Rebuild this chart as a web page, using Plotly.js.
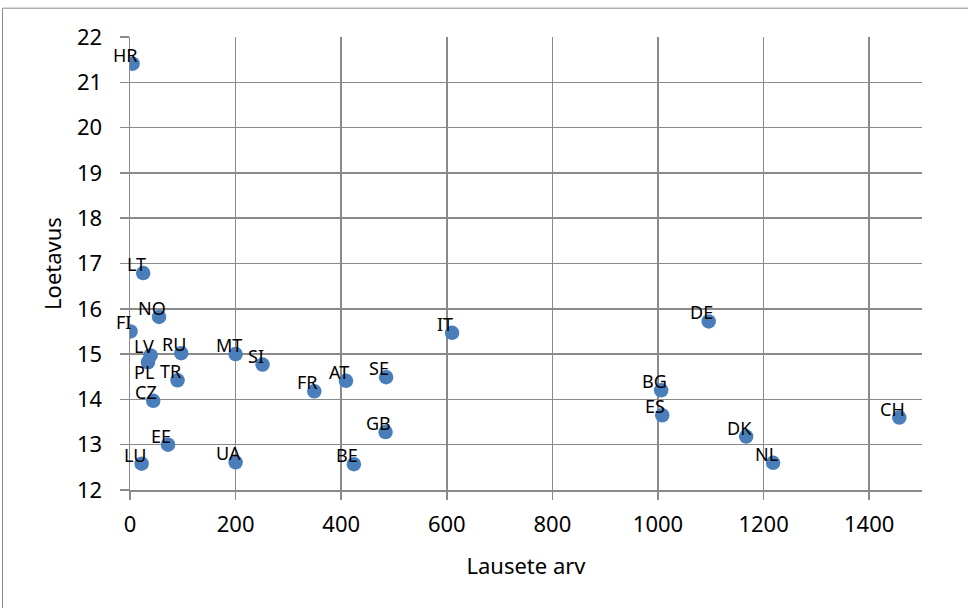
<!DOCTYPE html>
<html>
<head>
<meta charset="utf-8">
<script src="https://cdn.plot.ly/plotly-3.0.1.min.js"></script>
<style>
html,body{margin:0;padding:0;background:#fff;}
#chart{width:968px;height:608px;}
</style>
</head>
<body>
<div id="chart"></div>
<script>
const countries = ["HR","LT","NO","FI","LV","PL","RU","TR","CZ","EE","LU","UA","MT","SI","FR","AT","SE","GB","BE","IT","DE","BG","ES","DK","NL","CH"];
const sentenceCount = [5, 25, 55, 1, 39, 34, 97, 90, 44, 72, 22, 200, 200, 251, 349, 409, 485, 484, 424, 610, 1096, 1006, 1008, 1167, 1218, 1457];
const readability = [21.41, 16.79, 15.82, 15.50, 14.97, 14.82, 15.02, 14.42, 13.97, 13.00, 12.58, 12.61, 15.00, 14.77, 14.18, 14.41, 14.49, 13.28, 12.57, 15.47, 15.72, 14.20, 13.65, 13.18, 12.60, 13.60];
const xTicks = [0, 200, 400, 600, 800, 1000, 1200, 1400];
const yTicks = [12, 13, 14, 15, 16, 17, 18, 19, 20, 21, 22];

const FONT = "'Noto Sans', 'Open Sans', sans-serif";
const GRID = "#8a8a8a";

// label placement (style): default above-left, some labels placed below-left
const labelPlacement = {PL: {xshift: -4, yshift: -10}};

const trace = {
  type: "scatter",
  mode: "markers",
  x: sentenceCount,
  y: readability,
  marker: {size: 14.5, color: "#4a7ebb", line: {width: 0}},
  hoverinfo: "x+y+text",
  text: countries,
  showlegend: false
};

const annotations = countries.map((c, i) => {
  const p = labelPlacement[c] || {xshift: -7, yshift: 9};
  return {
    x: sentenceCount[i], y: readability[i], text: c,
    xref: "x", yref: "y", showarrow: false,
    xanchor: "center", yanchor: "middle",
    xshift: p.xshift, yshift: p.yshift,
    font: {family: FONT, size: 18, color: "#000"}
  };
});

const layout = {
  width: 968, height: 608,
  margin: {l: 130, r: 46, t: 37, b: 117.5},
  paper_bgcolor: "#fff", plot_bgcolor: "#fff",
  font: {family: FONT, size: 22, color: "#000"},
  xaxis: {
    range: [0, 1500], tickvals: xTicks, ticktext: xTicks.map(String),
    showgrid: true, gridcolor: GRID, gridwidth: 1.5,
    zeroline: false, showline: true, linecolor: GRID, linewidth: 1.5,
    ticks: "outside", ticklen: 8, tickcolor: GRID, tickwidth: 1.5, ticklabelstandoff: 6,
    tickfont: {family: FONT, size: 22, color: "#000"},
    title: {text: "Lausete arv", font: {family: FONT, size: 22, color: "#000"}, standoff: 21},
    fixedrange: true
  },
  yaxis: {
    range: [12, 22], tickvals: yTicks, ticktext: yTicks.map(String),
    showgrid: true, gridcolor: GRID, gridwidth: 1.5,
    zeroline: false, showline: true, linecolor: GRID, linewidth: 1.5,
    ticks: "outside", ticklen: 9, tickcolor: GRID, tickwidth: 1.5, ticklabelstandoff: 13,
    tickfont: {family: FONT, size: 22, color: "#000"},
    title: {text: "Loetavus", font: {family: FONT, size: 22, color: "#000"}, standoff: 9},
    fixedrange: true
  },
  annotations: annotations,
  shapes: [{
    type: "rect", xref: "paper", yref: "paper",
    x0: -0.161, x1: 1.07, y0: -0.27, y1: 1.0636,
    line: {color: "#8a8a8a", width: 1}, fillcolor: "rgba(0,0,0,0)", layer: "below"
  }]
};

Plotly.newPlot("chart", [trace], layout, {displayModeBar: false, staticPlot: true});
</script>
</body>
</html>
